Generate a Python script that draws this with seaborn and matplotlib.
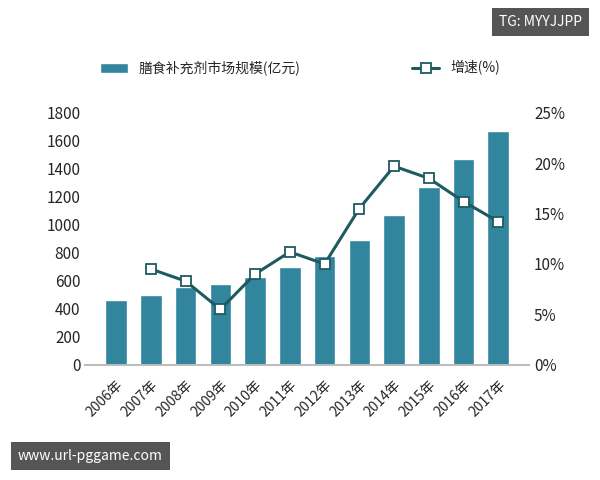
import matplotlib.pyplot as plt
import seaborn as sns
import pandas as pd
from matplotlib.ticker import FuncFormatter

years = ["2006年", "2007年", "2008年", "2009年", "2010年", "2011年",
         "2012年", "2013年", "2014年", "2015年", "2016年", "2017年"]
market_size = [460, 500, 555, 575, 630, 700, 775, 895, 1070, 1270, 1470, 1670]
growth = [None, 9.5, 8.3, 5.5, 9.0, 11.2, 10.0, 15.5, 19.7, 18.5, 16.2, 14.2]

sns.set_theme(style="white")
plt.rcParams['font.family'] = ['Noto Sans CJK SC', 'DejaVu Sans']

df = pd.DataFrame({"year": years, "size": market_size, "growth": growth})

fig = plt.figure(figsize=(6, 4.8), dpi=100)
ax = fig.add_axes([0.142, 0.24, 0.74, 0.525])
sns.barplot(data=df, x="year", y="size", color="#31859c", saturation=1,
            width=0.62, ax=ax, label="膳食补充剂市场规模(亿元)", legend=False)
ax.set_ylim(0, 1800)
ax.set_yticks(range(0, 1801, 200))
ax.set_xlabel("")
ax.set_ylabel("")
ax.tick_params(axis="x", rotation=45, labelsize=10)
ax.tick_params(axis="y", labelsize=11, length=0)
for lbl in ax.get_xticklabels():
    lbl.set_ha("right")
    lbl.set_rotation_mode("anchor")

ax2 = ax.twinx()
x = list(range(len(years)))
ax2.plot(x[1:], growth[1:], color="#1f5a60", lw=2.2, marker="s", ms=7,
         mfc="white", mec="#1f5a60", mew=1.3, label="增速(%)")
ax2.set_ylim(0, 25)
ax2.set_yticks(range(0, 26, 5))
ax2.yaxis.set_major_formatter(FuncFormatter(lambda v, p: f"{v:.0f}%"))
ax2.tick_params(axis="y", labelsize=11, length=0)
ax2.grid(False)

for a in (ax, ax2):
    for s in a.spines.values():
        s.set_visible(False)
    a.spines["bottom"].set_visible(True)
    a.spines["bottom"].set_color("#bbbbbb")

h1, l1 = ax.get_legend_handles_labels()
h2, l2 = ax2.get_legend_handles_labels()
if ax.get_legend():
    ax.get_legend().remove()
fig.legend(h1[:1] + h2, l1[:1] + l2, loc="upper center", bbox_to_anchor=(0.5, 0.9),
           ncol=2, frameon=False, fontsize=10, columnspacing=8)

fig.text(0.97, 0.955, "TG: MYYJJPP", ha="right", va="center", color="white",
         fontsize=10, bbox=dict(boxstyle="square,pad=0.5", fc="#555555", ec="none"))
fig.text(0.03, 0.05, "www.url-pggame.com", ha="left", va="center", color="white",
         fontsize=10, bbox=dict(boxstyle="square,pad=0.5", fc="#555555", ec="none"))

fig.savefig("out.png")
